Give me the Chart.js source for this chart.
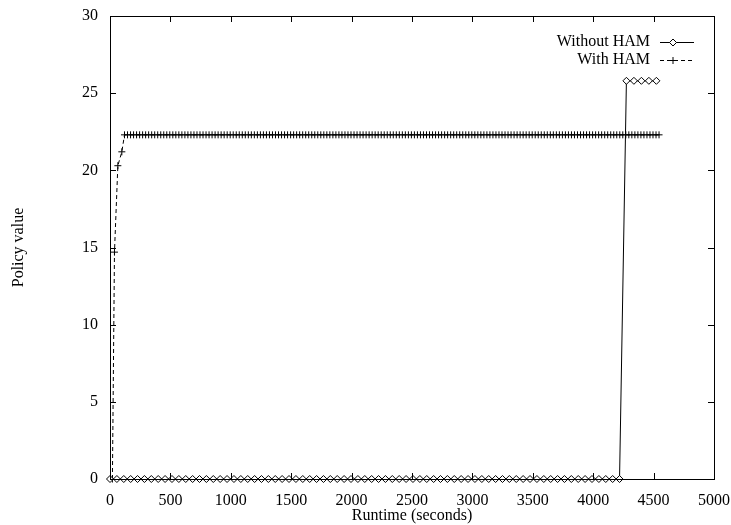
<!DOCTYPE html>
<html>
<head>
<meta charset="utf-8">
<script src="https://cdn.jsdelivr.net/npm/chart.js@4/dist/chart.umd.min.js"></script>
<style>
  html, body { margin: 0; padding: 0; background: #fff; }
  #chart { display: block; }
</style>
</head>
<body>
<canvas id="chart" width="731" height="525"></canvas>
<script>
// values
const withoutHamTimes = [
  0, 57, 114, 171, 228, 285, 342, 399, 456, 513, 570, 627, 684, 741, 798, 855, 912, 969, 1026, 1083,
  1140, 1197, 1254, 1311, 1368, 1425, 1482, 1539, 1596, 1653, 1710, 1767, 1824, 1881, 1938, 1995,
  2052, 2109, 2166, 2223, 2280, 2337, 2394, 2451, 2508, 2565, 2622, 2679, 2736, 2793, 2850, 2907,
  2964, 3021, 3078, 3135, 3192, 3249, 3306, 3363, 3420, 3477, 3534, 3591, 3648, 3705, 3762, 3819,
  3876, 3933, 3990, 4047, 4104, 4161, 4218,
  4275, 4337, 4399, 4461, 4523
];
const withoutHamValues = [
  0, 0, 0, 0, 0, 0, 0, 0, 0, 0, 0, 0, 0, 0, 0, 0, 0, 0, 0, 0,
  0, 0, 0, 0, 0, 0, 0, 0, 0, 0, 0, 0, 0, 0, 0, 0,
  0, 0, 0, 0, 0, 0, 0, 0, 0, 0, 0, 0, 0, 0, 0, 0,
  0, 0, 0, 0, 0, 0, 0, 0, 0, 0, 0, 0, 0, 0, 0, 0,
  0, 0, 0, 0, 0, 0, 0,
  25.8, 25.8, 25.8, 25.8, 25.8
];

const withHamTimes = [
  20, 37, 65, 98,
  120, 145, 170, 195, 220, 245, 270, 295, 320, 345, 370, 395, 420, 445, 470, 495,
  520, 545, 570, 595, 620, 645, 670, 695, 720, 745, 770, 795, 820, 845, 870, 895,
  920, 945, 970, 995, 1020, 1045, 1070, 1095, 1120, 1145, 1170, 1195, 1220, 1245, 1270, 1295,
  1320, 1345, 1370, 1395, 1420, 1445, 1470, 1495, 1520, 1545, 1570, 1595, 1620, 1645, 1670, 1695,
  1720, 1745, 1770, 1795, 1820, 1845, 1870, 1895, 1920, 1945, 1970, 1995, 2020, 2045, 2070, 2095,
  2120, 2145, 2170, 2195, 2220, 2245, 2270, 2295, 2320, 2345, 2370, 2395, 2420, 2445, 2470, 2495,
  2520, 2545, 2570, 2595, 2620, 2645, 2670, 2695, 2720, 2745, 2770, 2795, 2820, 2845, 2870, 2895,
  2920, 2945, 2970, 2995, 3020, 3045, 3070, 3095, 3120, 3145, 3170, 3195, 3220, 3245, 3270, 3295,
  3320, 3345, 3370, 3395, 3420, 3445, 3470, 3495, 3520, 3545, 3570, 3595, 3620, 3645, 3670, 3695,
  3720, 3745, 3770, 3795, 3820, 3845, 3870, 3895, 3920, 3945, 3970, 3995, 4020, 4045, 4070, 4095,
  4120, 4145, 4170, 4195, 4220, 4245, 4270, 4295, 4320, 4345, 4370, 4395, 4420, 4445, 4470, 4495,
  4520, 4545
];
const withHamValues = [
  0, 14.7, 20.3, 21.2,
  22.3, 22.3, 22.3, 22.3, 22.3, 22.3, 22.3, 22.3, 22.3, 22.3, 22.3, 22.3, 22.3, 22.3, 22.3, 22.3,
  22.3, 22.3, 22.3, 22.3, 22.3, 22.3, 22.3, 22.3, 22.3, 22.3, 22.3, 22.3, 22.3, 22.3, 22.3, 22.3,
  22.3, 22.3, 22.3, 22.3, 22.3, 22.3, 22.3, 22.3, 22.3, 22.3, 22.3, 22.3, 22.3, 22.3, 22.3, 22.3,
  22.3, 22.3, 22.3, 22.3, 22.3, 22.3, 22.3, 22.3, 22.3, 22.3, 22.3, 22.3, 22.3, 22.3, 22.3, 22.3,
  22.3, 22.3, 22.3, 22.3, 22.3, 22.3, 22.3, 22.3, 22.3, 22.3, 22.3, 22.3, 22.3, 22.3, 22.3, 22.3,
  22.3, 22.3, 22.3, 22.3, 22.3, 22.3, 22.3, 22.3, 22.3, 22.3, 22.3, 22.3, 22.3, 22.3, 22.3, 22.3,
  22.3, 22.3, 22.3, 22.3, 22.3, 22.3, 22.3, 22.3, 22.3, 22.3, 22.3, 22.3, 22.3, 22.3, 22.3, 22.3,
  22.3, 22.3, 22.3, 22.3, 22.3, 22.3, 22.3, 22.3, 22.3, 22.3, 22.3, 22.3, 22.3, 22.3, 22.3, 22.3,
  22.3, 22.3, 22.3, 22.3, 22.3, 22.3, 22.3, 22.3, 22.3, 22.3, 22.3, 22.3, 22.3, 22.3, 22.3, 22.3,
  22.3, 22.3, 22.3, 22.3, 22.3, 22.3, 22.3, 22.3, 22.3, 22.3, 22.3, 22.3, 22.3, 22.3, 22.3, 22.3,
  22.3, 22.3, 22.3, 22.3, 22.3, 22.3, 22.3, 22.3, 22.3, 22.3, 22.3, 22.3, 22.3, 22.3, 22.3, 22.3,
  22.3, 22.3
];

const seriesNames = ['Without HAM', 'With HAM'];
const xTitle = 'Runtime (seconds)';
const yTitle = 'Policy value';

function toPoints(xs, ys) {
  return xs.map((x, i) => ({ x: x, y: ys[i] }));
}

Chart.defaults.font.family = "'Liberation Serif', 'DejaVu Serif', serif";
Chart.defaults.font.size = 16;
Chart.defaults.color = '#000';

// gnuplot style frame: full box with inward ticks on all sides
const frameTicks = {
  id: 'frameTicks',
  afterDatasetsDraw(chart) {
    const ctx = chart.ctx;
    const a = chart.chartArea;
    const xs = chart.scales.x, ys = chart.scales.y;
    const len = 6;
    ctx.save();
    ctx.strokeStyle = '#000';
    ctx.lineWidth = 1;
    ctx.beginPath();
    xs.ticks.forEach(t => {
      const px = Math.round(xs.getPixelForValue(t.value)) + 0.5;
      ctx.moveTo(px, a.bottom); ctx.lineTo(px, a.bottom - len);
      ctx.moveTo(px, a.top); ctx.lineTo(px, a.top + len);
    });
    ys.ticks.forEach(t => {
      const py = Math.round(ys.getPixelForValue(t.value)) + 0.5;
      ctx.moveTo(a.left, py); ctx.lineTo(a.left + len, py);
      ctx.moveTo(a.right, py); ctx.lineTo(a.right - len, py);
    });
    ctx.stroke();
    ctx.strokeRect(Math.round(a.left) + 0.5, Math.round(a.top) + 0.5,
      Math.round(a.right - a.left), Math.round(a.bottom - a.top));
    ctx.restore();
  }
};

// legend in the top right corner, text right aligned, sample on the right
const keyBox = {
  id: 'keyBox',
  afterDatasetsDraw(chart) {
    const ctx = chart.ctx;
    const a = chart.chartArea;
    const textRight = a.right - 64;
    const lineStart = a.right - 54;
    const lineEnd = a.right - 20;
    ctx.save();
    ctx.font = "16px 'Liberation Serif'";
    ctx.textAlign = 'right';
    ctx.textBaseline = 'middle';
    chart.data.datasets.forEach((ds, i) => {
      const y = a.top + 26 + i * 18;
      ctx.fillStyle = '#000';
      ctx.fillText(ds.label, textRight, y);
      ctx.strokeStyle = '#000';
      ctx.lineWidth = 1;
      ctx.setLineDash(ds.borderDash || []);
      ctx.beginPath();
      ctx.moveTo(lineStart, y + 0.5);
      ctx.lineTo(lineEnd, y + 0.5);
      ctx.stroke();
      ctx.setLineDash([]);
      ctx.fillStyle = ds.pointBackgroundColor || '#000';
      Chart.helpers.drawPoint(ctx, {
        pointStyle: ds.pointStyle,
        radius: ds.pointRadius,
        borderWidth: 1
      }, (lineStart + lineEnd) / 2 - 4, y + 0.5);
    });
    ctx.restore();
  }
};

const ctx = document.getElementById('chart').getContext('2d');
new Chart(ctx, {
  type: 'line',
  data: {
    datasets: [
      {
        label: seriesNames[0],
        data: toPoints(withoutHamTimes, withoutHamValues),
        borderColor: '#000',
        backgroundColor: '#fff',
        borderWidth: 1,
        pointStyle: 'rectRot',
        pointRadius: 3.5,
        pointBorderColor: '#000',
        pointBackgroundColor: '#fff',
        pointBorderWidth: 1,
        tension: 0,
        clip: false
      },
      {
        label: seriesNames[1],
        data: toPoints(withHamTimes, withHamValues),
        borderColor: '#000',
        backgroundColor: '#000',
        borderWidth: 1,
        borderDash: [4, 3],
        pointStyle: 'cross',
        pointRadius: 3.5,
        pointBorderColor: '#000',
        pointBorderWidth: 1,
        tension: 0,
        clip: false
      }
    ]
  },
  options: {
    responsive: false,
    animation: false,
    layout: { padding: { left: 0, right: 17, top: 16, bottom: 0 } },
    plugins: {
      legend: { display: false },
      tooltip: { enabled: false }
    },
    scales: {
      x: {
        type: 'linear',
        min: 0,
        max: 5000,
        ticks: {
          stepSize: 500, padding: 12, maxRotation: 0, autoSkip: false,
          callback: v => String(v)
        },
        grid: { display: false, drawTicks: false },
        border: { display: false },
        title: { display: true, text: xTitle, padding: { top: 0, bottom: 0 } },
        afterFit(scale) {
          scale.height = 46;
          scale.paddingLeft = 0;
          scale.paddingRight = 0;
        }
      },
      y: {
        min: 0,
        max: 30,
        ticks: { stepSize: 5, padding: 12 },
        grid: { display: false, drawTicks: false },
        border: { display: false },
        title: { display: true, text: yTitle, padding: { top: 9, bottom: 0 } },
        afterFit(scale) {
          scale.width = 110;
          scale.paddingTop = 0;
          scale.paddingBottom = 0;
        }
      }
    }
  },
  plugins: [frameTicks, keyBox]
});
</script>
</body>
</html>
